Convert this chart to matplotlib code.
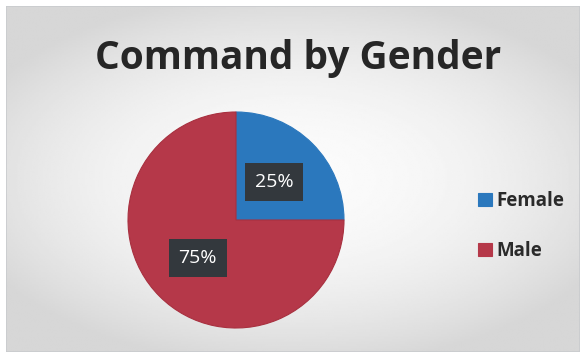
import numpy as np
import matplotlib.pyplot as plt
from matplotlib.patches import Rectangle

categories = ["Female", "Male"]
shares = [25, 75]
colors = ["#2b78bd", "#b53849"]
title = "Command by Gender"

W, H = 584, 356
fig = plt.figure(figsize=(W / 100, H / 100), dpi=100, facecolor="white")

# panel background: soft grey with a lighter centre
bg = fig.add_axes([6 / W, 4 / H, 574 / W, 346 / H])
yy, xx = np.mgrid[-1:1:200j, -1:1:300j]
r = np.sqrt((xx * 0.9) ** 2 + (yy * 1.0) ** 2)
shade = np.clip(0.985 - 0.12 * r ** 2, 0.84, 0.985)
bg.imshow(shade, cmap="gray", vmin=0, vmax=1, aspect="auto",
          extent=[0, 1, 0, 1], interpolation="bilinear")
bg.add_patch(Rectangle((0, 0), 1, 1, transform=bg.transAxes, fill=False,
                       edgecolor="#c9cbce", linewidth=1.2))
bg.set_axis_off()

fig.text(298 / W, 1 - 59 / H, title, ha="center", va="center",
         fontsize=28, fontweight="bold", family="Open Sans", color="#262626")

cx, cy, rad = 236, 220, 108
ax = fig.add_axes([(cx - rad) / W, (H - cy - rad) / H, 2 * rad / W, 2 * rad / H])
wedges, texts, autotexts = ax.pie(
    shares, colors=colors, startangle=90, counterclock=False,
    autopct="%d%%", pctdistance=0.5,
    wedgeprops=dict(linewidth=0.8, edgecolor="#a8303f"))
wedges[0].set_edgecolor(colors[0])
for t in autotexts:
    t.set_color("white")
    t.set_fontsize(14)
    t.set_family("Open Sans")
    t.set_bbox(dict(boxstyle="square,pad=0.5", facecolor="#33383d",
                    edgecolor="none"))
ax.set_aspect("equal")
ax.set_xlim(-1, 1)
ax.set_ylim(-1, 1)

leg = fig.legend(wedges, categories, loc="center left",
                 bbox_to_anchor=(461 / W, 1 - 226 / H),
                 frameon=False, handlelength=0.75, handleheight=0.75,
                 handletextpad=0.25, labelspacing=1.6,
                 prop=dict(family="Open Sans", weight="bold", size=13.5))
for t in leg.get_texts():
    t.set_color("#2a2a2a")
for h in leg.legend_handles:
    h.set_edgecolor(h.get_facecolor())

fig.savefig("out.png", dpi=100, facecolor="white")
